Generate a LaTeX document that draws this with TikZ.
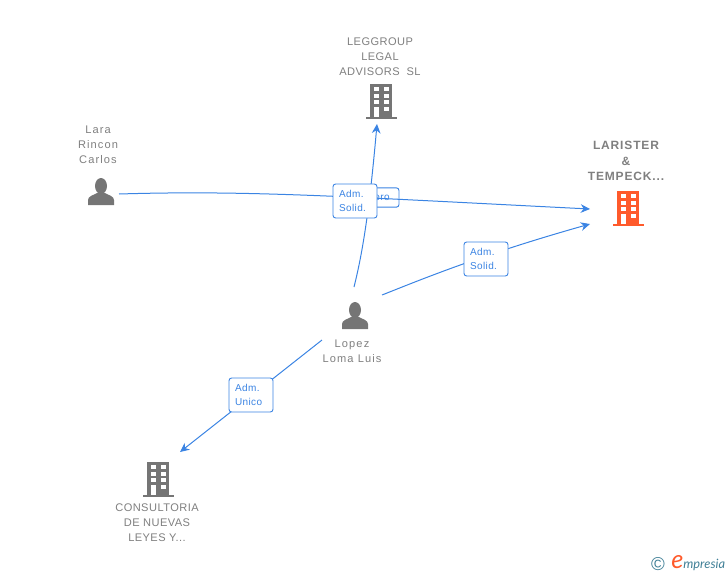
\documentclass[tikz,border=0pt]{standalone}
\usepackage{fontspec}
\setmainfont{Liberation Sans}
\newfontfamily\logofont{Lato}
\usepackage{tikz}
\usetikzlibrary{arrows.meta}
\definecolor{linkblue}{HTML}{3B84E3}
\definecolor{icongrey}{HTML}{757575}
\definecolor{textgrey}{HTML}{7F7F7F}
\definecolor{hotorange}{HTML}{FF5A2B}
\definecolor{logoteal}{HTML}{3F7F96}
\tikzset{
	entity/.style={text=textgrey, font=\fontsize{8.3}{11.2}\selectfont\addfontfeature{LetterSpace=4}, align=center, inner sep=0pt},
	personentity/.style={entity, font=\fontsize{8.3}{11.2}\selectfont\addfontfeature{LetterSpace=10}},
	boldentity/.style={entity, font=\fontsize{9}{11.4}\selectfont\bfseries\addfontfeature{LetterSpace=7}},
	role/.style={draw=linkblue, fill=white, rounded corners=2pt, line width=0.7pt, text=linkblue, font=\fontsize{7.5}{11}\selectfont\addfontfeature{LetterSpace=4}, align=left, minimum height=25.5pt, minimum width=33pt, inner sep=0pt},
	link/.style={draw=linkblue, line width=0.75pt, -{Stealth[length=7pt,width=6.5pt]}},
	pics/building/.style={code={
		\fill[#1] (-11,-16) rectangle (11,17);
		\fill[#1] (-15.5,16.5) rectangle (15.5,19);
		\foreach \cx in {-7,3} \foreach \cy in {-13,-6.5,0}
			\fill[white] (\cx,\cy) rectangle ++(5,4.3);
		\fill[white] (3,7) rectangle ++(5,4.3);
		\fill[white] (-7,7) rectangle ++(5,10);
	}},
	pics/person/.style={code={
		\fill[icongrey] (0,-5) ellipse (6 and 8);
		\fill[icongrey] (-13,14) -- (-13,9) .. controls (-13,5) and (-7,4) .. (-4,2) -- (4,2) .. controls (7,4) and (13,5) .. (13,9) -- (13,14) -- cycle;
	}}
}
\begin{document}
\begin{tikzpicture}[x=0.75pt, y=-0.75pt]
	\useasboundingbox (0,0) rectangle (728,575);

	\pic at (381,100) {building=icongrey};
	\pic at (628,207) {building=hotorange};
	\pic at (158,478) {building=icongrey};
	\pic at (101,191) {person};
	\pic at (355,315) {person};

	\node[entity] (leggroup) at (380,57) {LEGGROUP\\LEGAL\\ADVISORS\ \ SL};
	\node[boldentity] (larister) at (626,161) {LARISTER\\\&\\TEMPECK...};
	\node[personentity] (lara) at (98,145) {Lara\\Rincon\\Carlos};
	\node[personentity] (lopez) at (352,351) {Lopez\\Loma Luis};
	\node[entity] (consultoria) at (157,523) {CONSULTORIA\\DE NUEVAS\\LEYES Y...};

	\coordinate (laraout) at (119,194);
	\coordinate (lopeznorth) at (354,287);
	\coordinate (lopezeast) at (382,295);
	\coordinate (lopezsouth) at (322,340);
	\coordinate (leggroupin) at (377,124);
	\coordinate (laristerina) at (590,209);
	\coordinate (laristerinb) at (590,224);
	\coordinate (consultoriain) at (180,452);

	% box behind, only its end shows
	\node[role, minimum height=14.5pt, minimum width=33pt, align=right, text width=19pt] (hidden) at (377,197.5) {ero};

	\draw[link] (laraout) .. controls (250,190) and (350,197) .. (laristerina);
	\draw[link] (lopeznorth) .. controls (362,255) and (369,215) .. (leggroupin);
	\draw[link] (lopezeast) .. controls (420,280) and (480,255) .. (laristerinb);
	\draw[link] (lopezsouth) -- (consultoriain);

	\node[role, text width=24pt] (solida) at (355,201) {Adm.\\Solid.};
	\node[role, text width=24pt] (solidb) at (486,259) {Adm.\\Solid.};
	\node[role, text width=24pt] (unico) at (251,395) {Adm.\\Unico};

	\node[inner sep=0pt, text=logoteal, font=\fontsize{14}{14}\selectfont] (copyr) at (658,564) {\textcopyright};
	\node[inner sep=0pt, anchor=base west, text=logoteal, font=\logofont\itshape\fontsize{9.6}{10}\selectfont] (brand) at (671,568) {{\color{hotorange}\fontsize{19}{19}\selectfont e}mpresia};
\end{tikzpicture}
\end{document}
